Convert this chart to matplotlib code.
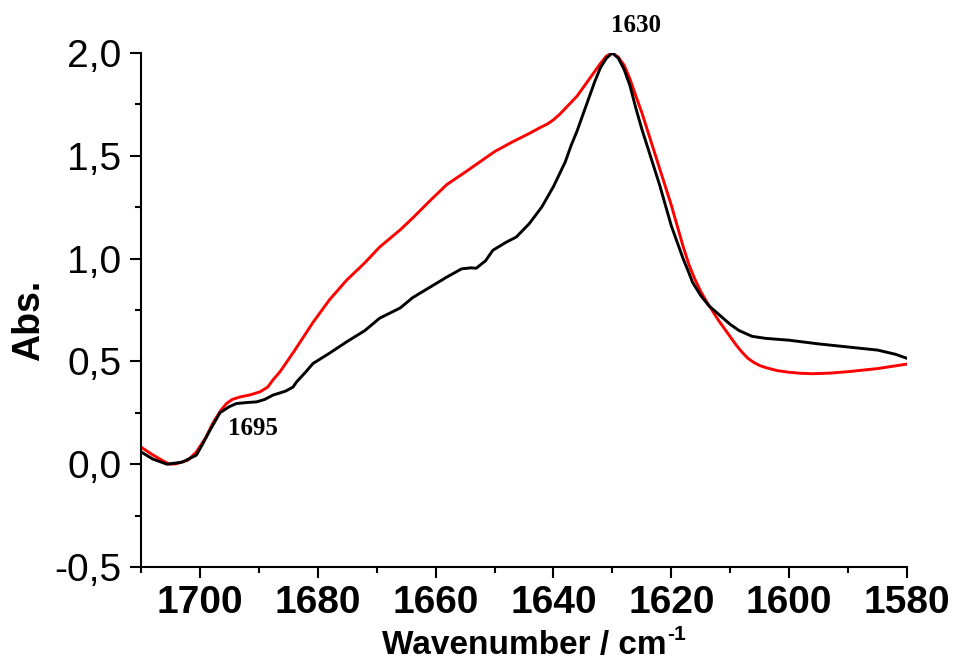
import numpy as np
import matplotlib.pyplot as plt

# Amide I band, two spectra (absorbance vs wavenumber)
wn_black = np.array([1710, 1708, 1705.6, 1703, 1700.6, 1699.5, 1698.3, 1696.6, 1695, 1693.8, 1692, 1690.4,
                     1689, 1687.6, 1685.5, 1684.2, 1683.6, 1682, 1680.8, 1678, 1675.1, 1672, 1669.5,
                     1666, 1663.9, 1661, 1658.1, 1655.6, 1654, 1653.1, 1651.5, 1650.3, 1648, 1646.3,
                     1644.1, 1642, 1641, 1640, 1639, 1638, 1637, 1636, 1635, 1634, 1633, 1632, 1631,
                     1630, 1629, 1628, 1627, 1626, 1625, 1624, 1623, 1622, 1621, 1620, 1619, 1618,
                     1617, 1616.4, 1615, 1613.6, 1612, 1610, 1608.5, 1606.3, 1604, 1600, 1595, 1590,
                     1585, 1582, 1580])
abs_black = np.array([0.06, 0.025, 0.0, 0.01, 0.044, 0.10, 0.165, 0.25, 0.28, 0.295, 0.30, 0.303,
                      0.315, 0.336, 0.355, 0.375, 0.40, 0.45, 0.49, 0.54, 0.595, 0.65, 0.71,
                      0.76, 0.81, 0.86, 0.91, 0.95, 0.955, 0.953, 0.99, 1.04, 1.08, 1.105,
                      1.17, 1.25, 1.30, 1.35, 1.41, 1.47, 1.55, 1.62, 1.70, 1.78, 1.86, 1.93, 1.975,
                      2.0, 1.975, 1.92, 1.84, 1.73, 1.63, 1.54, 1.45, 1.36, 1.26, 1.16, 1.08, 1.0,
                      0.93, 0.885, 0.82, 0.77, 0.73, 0.68, 0.65, 0.622, 0.612, 0.603, 0.585, 0.57,
                      0.555, 0.535, 0.515])

wn_red = np.array([1710, 1708, 1706, 1705.1, 1704, 1702, 1700.6, 1699, 1697.8, 1696.5, 1695.5, 1694.5,
                   1693.2, 1691.5, 1689.8, 1688.5, 1687.6, 1686.4, 1684, 1680.8, 1678, 1675.1, 1672,
                   1669.5, 1666, 1663.9, 1661, 1658.1, 1655, 1652.5, 1650, 1647, 1644, 1642.4, 1641,
                   1640, 1639, 1638, 1637, 1636, 1635, 1634, 1633, 1632, 1631, 1630, 1629, 1628,
                   1627.1, 1626, 1625, 1624, 1623, 1622, 1621, 1620, 1619, 1618, 1617, 1616, 1615,
                   1614, 1613, 1612, 1611, 1610, 1609, 1608, 1607, 1606, 1605, 1604, 1602, 1600,
                   1598, 1596, 1593, 1590, 1585, 1580])
abs_red = np.array([0.083, 0.045, 0.012, 0.0, 0.002, 0.02, 0.06, 0.13, 0.2, 0.26, 0.295, 0.315,
                    0.327, 0.337, 0.352, 0.375, 0.41, 0.45, 0.55, 0.69, 0.80, 0.895, 0.98,
                    1.056, 1.14, 1.197, 1.28, 1.36, 1.42, 1.47, 1.52, 1.567, 1.61, 1.635, 1.655,
                    1.675, 1.70, 1.73, 1.76, 1.79, 1.83, 1.87, 1.91, 1.95, 1.985, 2.0, 1.98, 1.94,
                    1.88, 1.79, 1.71, 1.62, 1.53, 1.44, 1.35, 1.26, 1.16, 1.06, 0.97, 0.90, 0.84,
                    0.79, 0.745, 0.70, 0.66, 0.62, 0.58, 0.545, 0.515, 0.495, 0.48, 0.47, 0.455, 0.447,
                    0.442, 0.44, 0.443, 0.45, 0.465, 0.487])

plt.rcParams['font.family'] = ['Liberation Sans', 'DejaVu Sans']

fig = plt.figure(figsize=(9.54, 6.68), dpi=100)
ax = fig.add_axes([0.1478, 0.1512, 0.8029, 0.7695])

ax.plot(wn_red, abs_red, color='#ff0000', lw=2.1, solid_joinstyle='round')
ax.plot(wn_black, abs_black, color='black', lw=2.1, solid_joinstyle='round')

ax.set_xlim(1710, 1580)
ax.set_ylim(-0.5, 2.0)

ax.spines['top'].set_visible(False)
ax.spines['right'].set_visible(False)
for s in ('left', 'bottom'):
    ax.spines[s].set_linewidth(1.5)

ax.set_xticks(np.arange(1700, 1579, -20))
ax.set_xticks(np.arange(1710, 1579, -10), minor=True)
ax.set_yticks(np.arange(-0.5, 2.01, 0.5))
ax.set_yticks(np.arange(-0.5, 2.01, 0.25), minor=True)
ax.set_yticklabels([f'{v:.1f}'.replace('.', ',') for v in np.arange(-0.5, 2.01, 0.5)])

ax.tick_params(which='major', direction='out', length=8, width=1.5, labelsize=28)
ax.tick_params(which='minor', direction='out', length=4.5, width=1.5)
ax.tick_params(axis='y', pad=6)
ax.tick_params(axis='x', pad=5)
for lbl in ax.get_xticklabels():
    lbl.set_fontweight('bold')

# x label with a plain hyphen in the superscript
ax.set_xlabel('Wavenumber / cm', fontsize=24, fontweight='bold', labelpad=0)
ax.xaxis.set_label_coords(0.5, -0.122)
fig.canvas.draw()
bb = ax.xaxis.label.get_window_extent()
fig.text((bb.x1 + 1) / fig.bbox.width, (bb.y1 - 5) / fig.bbox.height, '-1',
         fontsize=15, fontweight='bold', ha='left', va='center')

ax.set_ylabel('Abs.', fontsize=27, fontweight='bold', labelpad=8)
ax.yaxis.set_label_coords(-0.123, 0.48)

ann = dict(fontsize=18, fontweight='bold', family='Liberation Serif',
           ha='center', va='center', clip_on=False)
ax.text(1626, 2.135, '1630', **ann)
ax.text(1691, 0.175, '1695', **ann)

fig.savefig('out.png', dpi=100)
